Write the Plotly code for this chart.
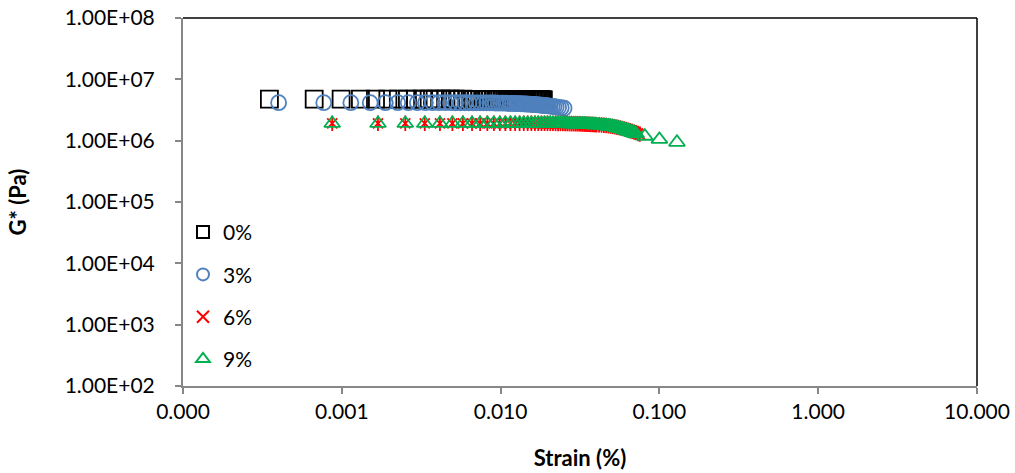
import plotly.graph_objects as go

# Strain sweep results: complex modulus G* (Pa) against strain (%)
strain_0 = [0.00035, 0.00067, 0.00099, 0.00131, 0.00163, 0.00195, 0.00227, 0.00259, 0.00291, 0.00323,
            0.00355, 0.00387, 0.00419, 0.00451, 0.00483, 0.00515, 0.00547, 0.00579, 0.00611, 0.00643,
            0.00675, 0.00707, 0.00739, 0.00771, 0.00803, 0.00835, 0.00867, 0.00899, 0.00931, 0.00963,
            0.00995, 0.01027, 0.01059, 0.01091, 0.01123, 0.01155, 0.01187, 0.01219, 0.01251, 0.01283,
            0.01315, 0.01347, 0.01379, 0.01411, 0.01443, 0.01475, 0.01507, 0.01539, 0.01571, 0.01603,
            0.01635, 0.01667, 0.01699, 0.01731, 0.01763, 0.01795, 0.01827, 0.01859]
gstar_0 = [4.75e6, 4.76e6, 4.75e6, 4.75e6, 4.75e6, 4.74e6, 4.75e6, 4.75e6, 4.74e6, 4.74e6,
           4.74e6, 4.74e6, 4.74e6, 4.74e6, 4.74e6, 4.74e6, 4.73e6, 4.74e6, 4.73e6, 4.73e6,
           4.73e6, 4.73e6, 4.73e6, 4.73e6, 4.72e6, 4.72e6, 4.72e6, 4.72e6, 4.72e6, 4.72e6,
           4.71e6, 4.71e6, 4.71e6, 4.71e6, 4.71e6, 4.70e6, 4.70e6, 4.70e6, 4.70e6, 4.70e6,
           4.69e6, 4.69e6, 4.69e6, 4.69e6, 4.68e6, 4.68e6, 4.68e6, 4.68e6, 4.67e6, 4.67e6,
           4.67e6, 4.66e6, 4.66e6, 4.66e6, 4.65e6, 4.65e6, 4.65e6, 4.64e6]

strain_3 = [0.00040, 0.00077, 0.00114, 0.00151, 0.00188, 0.00225, 0.00262, 0.00299, 0.00336, 0.00373,
            0.00410, 0.00447, 0.00484, 0.00521, 0.00558, 0.00595, 0.00632, 0.00669, 0.00706, 0.00743,
            0.00780, 0.00817, 0.00854, 0.00891, 0.00928, 0.00965, 0.01002, 0.01039, 0.01076, 0.01113,
            0.01150, 0.01187, 0.01224, 0.01261, 0.01298, 0.01335, 0.01372, 0.01409, 0.01446, 0.01483,
            0.01520, 0.01557, 0.01594, 0.01631, 0.01668, 0.01705, 0.01742, 0.01779, 0.01816, 0.01853,
            0.01890, 0.01927, 0.01964, 0.02001, 0.02050, 0.02110, 0.02170, 0.02240, 0.02320, 0.02410,
            0.02510]
gstar_3 = [4.16e6, 4.16e6, 4.16e6, 4.16e6, 4.16e6, 4.16e6, 4.16e6, 4.16e6, 4.16e6, 4.16e6,
           4.16e6, 4.16e6, 4.16e6, 4.15e6, 4.15e6, 4.15e6, 4.15e6, 4.14e6, 4.14e6, 4.14e6,
           4.13e6, 4.13e6, 4.12e6, 4.12e6, 4.11e6, 4.10e6, 4.10e6, 4.09e6, 4.08e6, 4.07e6,
           4.06e6, 4.05e6, 4.04e6, 4.03e6, 4.01e6, 4.00e6, 3.99e6, 3.97e6, 3.96e6, 3.94e6,
           3.93e6, 3.91e6, 3.89e6, 3.88e6, 3.86e6, 3.84e6, 3.82e6, 3.80e6, 3.78e6, 3.76e6,
           3.74e6, 3.72e6, 3.70e6, 3.68e6, 3.65e6, 3.62e6, 3.58e6, 3.54e6, 3.49e6, 3.44e6,
           3.38e6]

strain_6 = [0.00087, 0.00169, 0.00251, 0.00333, 0.00415, 0.00497, 0.00579, 0.00661, 0.00743, 0.00825,
            0.00907, 0.00989, 0.01071, 0.01153, 0.01235, 0.01317, 0.01399, 0.01481, 0.01563, 0.01645,
            0.01727, 0.01809, 0.01891, 0.01973, 0.02055, 0.02137, 0.02219, 0.02301, 0.02383, 0.02465,
            0.02547, 0.02629, 0.02711, 0.02793, 0.02875, 0.02957, 0.03039, 0.03121, 0.03203, 0.03285,
            0.03367, 0.03449, 0.03531, 0.03613, 0.03695, 0.03777, 0.03859, 0.03941, 0.04023, 0.0417,
            0.0432, 0.0447, 0.0462, 0.0477, 0.0492, 0.0507, 0.0522, 0.0537, 0.0552, 0.0568,
            0.0585, 0.0602, 0.0620, 0.0638, 0.0656, 0.0675, 0.0694, 0.0713, 0.0733, 0.0753]
gstar_6 = [1.92e6, 1.92e6, 1.92e6, 1.92e6, 1.92e6, 1.92e6, 1.92e6, 1.92e6, 1.92e6, 1.92e6,
           1.92e6, 1.92e6, 1.92e6, 1.92e6, 1.92e6, 1.92e6, 1.92e6, 1.92e6, 1.92e6, 1.92e6,
           1.92e6, 1.92e6, 1.92e6, 1.92e6, 1.915e6, 1.915e6, 1.91e6, 1.91e6, 1.91e6, 1.905e6,
           1.90e6, 1.90e6, 1.895e6, 1.89e6, 1.89e6, 1.885e6, 1.88e6, 1.875e6, 1.87e6, 1.865e6,
           1.86e6, 1.855e6, 1.85e6, 1.845e6, 1.84e6, 1.835e6, 1.83e6, 1.825e6, 1.82e6, 1.81e6,
           1.80e6, 1.78e6, 1.77e6, 1.75e6, 1.73e6, 1.71e6, 1.69e6, 1.66e6, 1.64e6, 1.61e6,
           1.58e6, 1.55e6, 1.52e6, 1.48e6, 1.45e6, 1.42e6, 1.38e6, 1.35e6, 1.31e6, 1.28e6]

strain_9 = [0.00087, 0.00169, 0.00251, 0.00333, 0.00415, 0.00497, 0.00579, 0.00661, 0.00743, 0.00825,
            0.00907, 0.00989, 0.01071, 0.01153, 0.01235, 0.01317, 0.01399, 0.01481, 0.01563, 0.01645,
            0.01727, 0.01809, 0.01891, 0.01973, 0.02055, 0.02137, 0.02219, 0.02301, 0.02383, 0.02465,
            0.02547, 0.02629, 0.02711, 0.02793, 0.02875, 0.02957, 0.03039, 0.03121, 0.03203, 0.03285,
            0.03367, 0.03449, 0.03531, 0.03613, 0.03695, 0.03777, 0.03859, 0.03941, 0.04023, 0.0417,
            0.0432, 0.0447, 0.0462, 0.0477, 0.0492, 0.0507, 0.0522, 0.0537, 0.0552, 0.0568,
            0.0585, 0.0602, 0.0620, 0.0638, 0.0656, 0.0675, 0.0694, 0.0713, 0.081, 0.100,
            0.129]
gstar_9 = [1.91e6, 1.91e6, 1.91e6, 1.91e6, 1.91e6, 1.91e6, 1.91e6, 1.91e6, 1.91e6, 1.91e6,
           1.91e6, 1.91e6, 1.91e6, 1.91e6, 1.91e6, 1.91e6, 1.91e6, 1.91e6, 1.91e6, 1.91e6,
           1.91e6, 1.91e6, 1.91e6, 1.905e6, 1.905e6, 1.90e6, 1.90e6, 1.90e6, 1.895e6, 1.89e6,
           1.89e6, 1.885e6, 1.88e6, 1.88e6, 1.875e6, 1.87e6, 1.865e6, 1.86e6, 1.855e6, 1.85e6,
           1.845e6, 1.84e6, 1.835e6, 1.83e6, 1.825e6, 1.82e6, 1.815e6, 1.81e6, 1.805e6, 1.80e6,
           1.79e6, 1.77e6, 1.75e6, 1.73e6, 1.71e6, 1.69e6, 1.66e6, 1.63e6, 1.60e6, 1.57e6,
           1.54e6, 1.50e6, 1.47e6, 1.43e6, 1.40e6, 1.36e6, 1.33e6, 1.29e6, 1.18e6, 1.05e6,
           0.94e6]

series_names = ["0%", "3%", "6%", "9%"]

x_tickvals = [1e-4, 1e-3, 1e-2, 1e-1, 1, 10]
x_ticktext = ["0.000", "0.001", "0.010", "0.100", "1.000", "10.000"]
y_tickvals = [1e2, 1e3, 1e4, 1e5, 1e6, 1e7, 1e8]
y_ticktext = ["1.00E+02", "1.00E+03", "1.00E+04", "1.00E+05", "1.00E+06", "1.00E+07", "1.00E+08"]

FONT = "Lato"
AXIS_GREY = "#878787"

fig = go.Figure()

fig.add_trace(go.Scatter(
    x=strain_0, y=gstar_0, name=series_names[0], mode="markers", legendgroup="a",
    marker=dict(symbol="square-open", size=17, color="#000000", line=dict(width=1.8, color="#000000")),
))
fig.add_trace(go.Scatter(
    x=strain_3, y=gstar_3, name=series_names[1], mode="markers", legendgroup="b",
    marker=dict(symbol="circle-open", size=15, color="#4F81BD", line=dict(width=1.8, color="#4F81BD")),
))
# star marker = diagonal cross plus a vertical stroke
fig.add_trace(go.Scatter(
    x=strain_6, y=gstar_6, name=series_names[2], mode="markers", legendgroup="c",
    marker=dict(symbol="x-thin-open", size=10, color="#FF0000", line=dict(width=1.8, color="#FF0000")),
))
fig.add_trace(go.Scatter(
    x=strain_6, y=gstar_6, name=series_names[2], mode="markers", legendgroup="c", showlegend=False,
    marker=dict(symbol="line-ns-open", size=11, color="#FF0000", line=dict(width=1.8, color="#FF0000")),
))
fig.add_trace(go.Scatter(
    x=strain_9, y=gstar_9, name=series_names[3], mode="markers", legendgroup="d",
    marker=dict(symbol="triangle-up-open", size=14, color="#00B050", line=dict(width=1.8, color="#00B050")),
))

fig.update_xaxes(
    type="log", range=[-4, 1], tickvals=x_tickvals, ticktext=x_ticktext, automargin=False,
    showgrid=False, zeroline=False, showline=True, linecolor=AXIS_GREY, linewidth=2,
    ticks="outside", ticklen=6, tickwidth=1.5, tickcolor=AXIS_GREY,
    tickfont=dict(family=FONT, size=21, color="#000000"),
    title=dict(text="<b>Strain (%)</b>", font=dict(family=FONT, size=22, color="#000000"), standoff=28),
)
fig.update_yaxes(
    type="log", range=[2, 8], tickvals=y_tickvals, ticktext=y_ticktext, automargin=False,
    showgrid=False, zeroline=False, showline=True, linecolor=AXIS_GREY, linewidth=2,
    ticks="outside", ticklen=6, tickwidth=1.5, tickcolor=AXIS_GREY, ticklabelstandoff=16,
    tickfont=dict(family=FONT, size=21, color="#000000"),
    title=dict(text="<b>G* (Pa)</b>", font=dict(family=FONT, size=22, color="#000000"), standoff=32),
)

# dark frame on the top and right edges of the plot area
fig.add_shape(type="line", xref="paper", yref="paper", x0=0, x1=1, y0=1, y1=1,
              line=dict(color="#000000", width=1.5))
fig.add_shape(type="line", xref="paper", yref="paper", x0=1, x1=1, y0=0, y1=1,
              line=dict(color="#000000", width=1.5))

fig.update_layout(
    width=1015, height=473,
    margin=dict(l=183, r=38, t=18, b=87),
    paper_bgcolor="#FFFFFF", plot_bgcolor="#FFFFFF",
    font=dict(family=FONT, color="#000000"),
    showlegend=True,
    legend=dict(
        x=0.0, y=0.473, xanchor="left", yanchor="top",
        bgcolor="rgba(0,0,0,0)", borderwidth=0,
        font=dict(family=FONT, size=21, color="#000000"),
        tracegroupgap=12, itemsizing="constant", traceorder="grouped",
    ),
)

fig.write_html("out.html")
